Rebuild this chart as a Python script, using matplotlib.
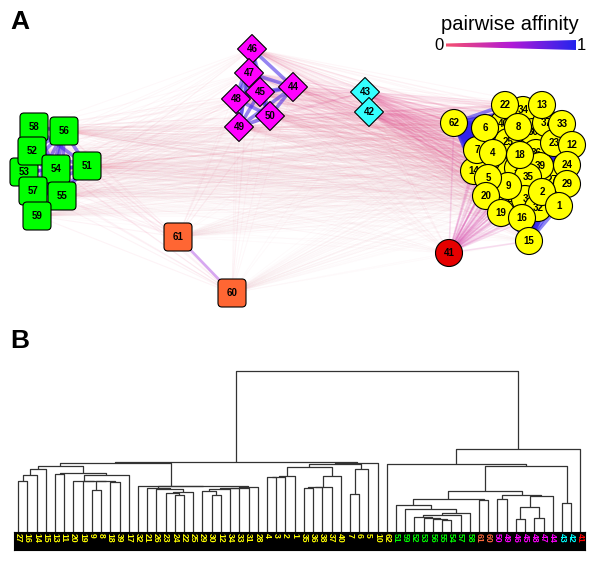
import numpy as np
import matplotlib
matplotlib.use('Agg')
import matplotlib.pyplot as plt
import matplotlib.transforms as mtrans
from matplotlib.collections import LineCollection
from matplotlib.patches import Circle, FancyBboxPatch, RegularPolygon, Polygon
from matplotlib.colors import LinearSegmentedColormap

plt.rcParams['font.family'] = ['Liberation Sans', 'DejaVu Sans']

# ---------------- panel A: node layout (graph coordinates) ----------------
yellow_ids = [10, 17, 21, 27, 28, 31, 38, 34, 30, 37, 40, 25, 36, 11, 39, 35, 26, 3, 14, 9,
              7, 23, 32, 22, 13, 6, 8, 33, 12, 4, 18, 24, 29, 5, 2, 20, 1, 19, 16, 15, 62]
yellow_x = [495, 529, 500, 552, 515, 550, 522, 523, 533, 546, 503, 508, 536, 518, 540, 528, 512, 525, 474, 508,
            477, 554, 538, 505, 542, 485, 518, 562, 572, 493, 520, 567, 567, 488, 542, 486, 559, 501, 522, 529, 454]
yellow_y = [165, 143, 200, 180, 182, 200, 190, 110, 132, 123, 124, 142, 153, 168, 166, 177, 199, 199, 171, 186,
            150, 143, 208, 105, 105, 128, 127, 124, 145, 153, 155, 165, 184, 178, 192, 196, 206, 213, 218, 241, 123]
red_ids = [41]
red_x = [449]
red_y = [253]
green_ids = [58, 56, 53, 52, 54, 51, 57, 55, 59]
green_x = [34, 64, 24, 32, 56, 87, 33, 62, 37]
green_y = [127, 131, 172, 151, 169, 166, 191, 196, 216]
orange_ids = [61, 60]
orange_x = [178, 232]
orange_y = [237, 293]
magenta_ids = [46, 47, 48, 45, 44, 50, 49]
magenta_x = [252, 249, 236, 260, 293, 270, 239]
magenta_y = [49, 73, 99, 92, 87, 116, 127]
cyan_ids = [43, 42]
cyan_x = [365, 369]
cyan_y = [92, 112]

group_names = ['yellow', 'red', 'green', 'orange', 'magenta', 'cyan']
node_colors = ['#ffff00', '#e60000', '#00ff00', '#ff6633', '#ff00ff', '#33ffff']
label_colors = ['#ffff00', '#ff0000', '#00ff00', '#ff6a3d', '#ff00ff', '#00ffff']
# mean pairwise affinity between groups
group_affinity = [
    # yel   red   grn   org   mag   cyn
    [0.95, 0.25, 0.01, 0.01, 0.05, 0.14],
    [0.25, 1.00, 0.01, 0.02, 0.03, 0.06],
    [0.01, 0.01, 0.90, 0.08, 0.04, 0.02],
    [0.01, 0.02, 0.08, 0.60, 0.04, 0.02],
    [0.05, 0.03, 0.04, 0.04, 0.90, 0.16],
    [0.14, 0.06, 0.02, 0.02, 0.16, 0.80],
]

# ---------------- panel B: dendrogram ----------------
leaf_order = [27, 16, 14, 15, 13, 11, 20, 19, 9, 8, 18, 39, 17, 32, 21, 26, 23, 24, 22, 25,
              29, 30, 12, 34, 33, 31, 28, 4, 3, 2, 1, 35, 36, 38, 37, 40, 7, 6, 5, 10,
              62, 51, 59, 52, 53, 56, 55, 54, 57, 58, 61, 60, 50, 49, 46, 45, 48, 47, 44, 43, 42, 41]
# (node, left, right, height)
left_merges = [
    ('a1', 27, 16, 0.317), ('a2', 'a1', 14, 0.354), ('a3', 'a2', 15, 0.391),
    ('b1', 9, 8, 0.261), ('b2', 18, 39, 0.31), ('b3', 'b1', 'b2', 0.314),
    ('b4', 19, 'b3', 0.316), ('b5', 20, 'b4', 0.318), ('b6', 'b5', 17, 0.352),
    ('b7', 13, 11, 0.363), ('b8', 'b7', 'b6', 0.366), ('p1', 'a3', 'b8', 0.41),
    ('c1', 24, 22, 0.23), ('c2', 23, 'c1', 0.242), ('c3', 'c2', 25, 0.248),
    ('c4', 26, 'c3', 0.267), ('c5', 21, 'c4', 0.273),
    ('c6', 30, 12, 0.23), ('c7', 29, 'c6', 0.255), ('c8', 'c7', 34, 0.27),
    ('c9', 'c8', 33, 0.273), ('c10', 'c9', 31, 0.276), ('c11', 'c10', 28, 0.28),
    ('c12', 'c5', 'c11', 0.283), ('c13', 32, 'c12', 0.286), ('p2', 'p1', 'c13', 0.429),
    ('d1', 4, 3, 0.342), ('d2', 'd1', 2, 0.344), ('d3', 'd2', 1, 0.346),
    ('e1', 35, 36, 0.276), ('e2', 'e1', 38, 0.278), ('e3', 'e2', 37, 0.28),
    ('e4', 'e3', 40, 0.348), ('r1', 'd3', 'e4', 0.404),
    ('q1', 7, 6, 0.236), ('q2', 'q1', 5, 0.391), ('r2', 'r1', 'q2', 0.423),
    ('q3', 'r2', 10, 0.427), ('left', 'p2', 'q3', 0.432),
]
right_merges = [
    ('g1', 55, 54, 0.075), ('g2', 56, 'g1', 0.08), ('g3', 53, 'g2', 0.087),
    ('g4', 52, 'g3', 0.095), ('g5', 'g4', 57, 0.105), ('g6', 'g5', 58, 0.118),
    ('g7', 59, 'g6', 0.143), ('g8', 51, 'g7', 0.168),
    ('o1', 61, 60, 0.199), ('g9', 'g8', 'o1', 0.205),
    ('m1', 50, 49, 0.205), ('m2', 46, 45, 0.081), ('m3', 48, 47, 0.087),
    ('m4', 'm2', 'm3', 0.155), ('m5', 'm4', 44, 0.224), ('m6', 'm1', 'm5', 0.23),
    ('h1', 'g9', 'm6', 0.255), ('k1', 43, 42, 0.18), ('h2', 'h1', 'k1', 0.41),
    ('h3', 62, 'h2', 0.422), ('right', 'h3', 41, 0.516),
    ('root', 'left', 'right', 1.0),
]

# -------------------------------------------------------------------------
cmap = LinearSegmentedColormap.from_list('aff', ['#f5506e', '#b21ad6', '#2424ee'])

fig = plt.figure(figsize=(6.0, 5.61), dpi=100)

# ---- panel A ----
ax = fig.add_axes([0, 1 - 315 / 561, 1, 315 / 561])
ax.set_xlim(0, 600)
ax.set_ylim(315, 0)
ax.axis('off')

groups = [(yellow_ids, yellow_x, yellow_y), (red_ids, red_x, red_y),
          (green_ids, green_x, green_y), (orange_ids, orange_x, orange_y),
          (magenta_ids, magenta_x, magenta_y), (cyan_ids, cyan_x, cyan_y)]
nodes = []
for gi, (ids, xs, ys) in enumerate(groups):
    for lab, x, y in zip(ids, xs, ys):
        nodes.append((lab, x, y, gi))

edges = []
for i in range(len(nodes)):
    for j in range(i + 1, len(nodes)):
        a = group_affinity[nodes[i][3]][nodes[j][3]]
        edges.append((a, (nodes[i][1], nodes[i][2]), (nodes[j][1], nodes[j][2])))
edges.sort(key=lambda e: e[0])
segs = [[p, q] for a, p, q in edges]
cols = []
for a, p, q in edges:
    c = list(cmap(a))
    c[3] = min(0.55, 0.02 + 0.6 * a)
    cols.append(c)
lws = [0.6 + 2.2 * a for a, p, q in edges]
ax.add_collection(LineCollection(segs, colors=cols, linewidths=lws, zorder=1))

r = 13.5
for lab, x, y, gi in nodes:
    fc = node_colors[gi]
    if group_names[gi] in ('yellow', 'red'):
        patch = Circle((x, y), r, facecolor=fc, edgecolor='black', lw=0.8)
    elif group_names[gi] in ('green', 'orange'):
        patch = FancyBboxPatch((x - 10, y - 10), 20, 20, boxstyle='round,pad=4',
                               facecolor=fc, edgecolor='black', lw=0.8)
    else:
        patch = RegularPolygon((x, y), numVertices=4, radius=14.5, orientation=0,
                               facecolor=fc, edgecolor='black', lw=0.8)
    patch.set_zorder(2)
    ax.add_patch(patch)
    ax.text(x, y, str(lab), ha='center', va='center', fontsize=7,
            weight='bold', zorder=2)

# colour wedge legend
ax.text(510, 24, 'pairwise affinity', ha='center', va='center', fontsize=14.5)
grad = np.linspace(0, 1, 256)[None, :]
im = ax.imshow(grad, cmap=cmap, extent=[446, 576, 52, 38], aspect='auto', zorder=5)
wedge = Polygon([(446, 43.5), (576, 40), (576, 50), (446, 46.5)], facecolor='none',
                edgecolor='none', transform=ax.transData)
ax.add_patch(wedge)
im.set_clip_path(wedge)
ax.text(439, 45, '0', ha='center', va='center', fontsize=12)
ax.text(581, 45, '1', ha='center', va='center', fontsize=12)
ax.set_xlim(0, 600)
ax.set_ylim(315, 0)

fig.text(10 / 600, 1 - 22 / 561, 'A', fontsize=19, weight='bold', va='center')
fig.text(10 / 600, 1 - 341 / 561, 'B', fontsize=19, weight='bold', va='center')

# ---- panel B ----
x0, x1 = 13.5, 585
axd = fig.add_axes([x0 / 600, (561 - 532) / 561, (x1 - x0) / 600, (532 - 369) / 561])
axd.set_xlim(-0.5, len(leaf_order) - 0.5)
axd.set_ylim(0, 163 / 161)
axd.axis('off')

xpos = {lab: i for i, lab in enumerate(leaf_order)}
hpos = {lab: 0.0 for lab in leaf_order}
for name, left, right, h in left_merges + right_merges:
    xl, xr = xpos[left], xpos[right]
    axd.plot([xl, xl, xr, xr], [hpos[left], h, h, hpos[right]], color='#333333',
             lw=0.9, solid_capstyle='butt', clip_on=False)
    xpos[name] = (xl + xr) / 2
    hpos[name] = h

axs = fig.add_axes([x0 / 600, (561 - 550) / 561, (x1 - x0) / 600, 18 / 561])
axs.set_xlim(-0.5, len(leaf_order) - 0.5)
axs.set_ylim(0, 1)
axs.set_facecolor('black')
axs.set_xticks([])
axs.set_yticks([])
trans = mtrans.blended_transform_factory(axs.transData, axs.transAxes)
group_of = {}
for gi, (ids, xs, ys) in enumerate(groups):
    for lab in ids:
        group_of[lab] = gi
for i, lab in enumerate(leaf_order):
    axs.text(i, 0.95, str(lab), transform=trans, rotation=270, ha='center', va='top',
             fontsize=6.2, weight='bold', color=label_colors[group_of[lab]])

fig.savefig('out.png', dpi=100)
